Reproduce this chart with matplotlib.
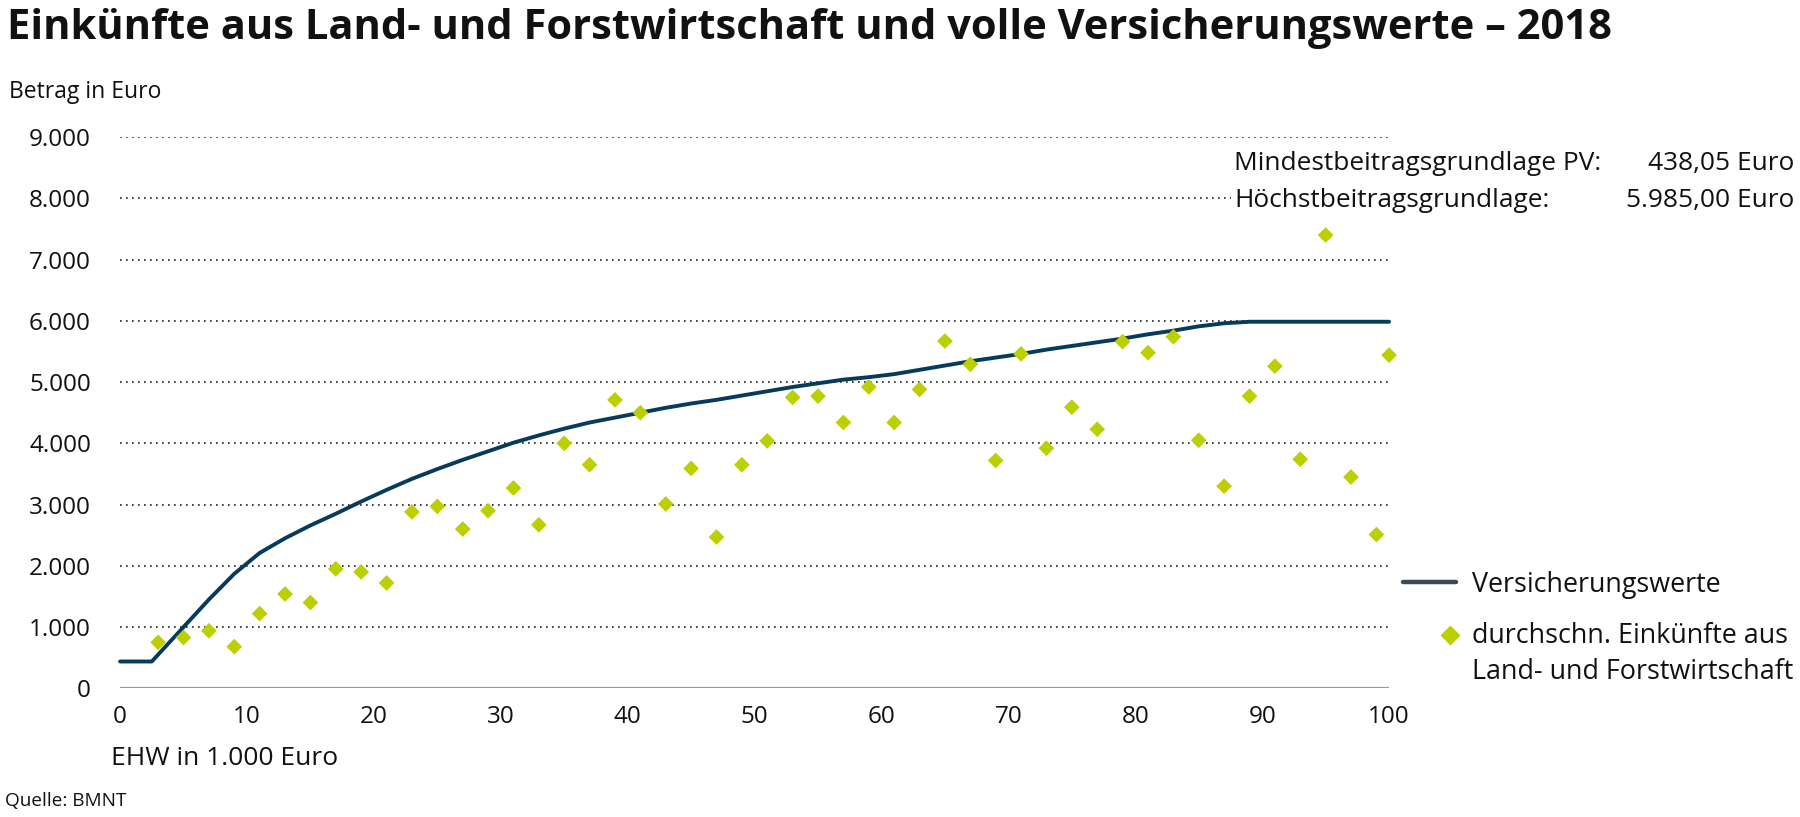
import matplotlib
matplotlib.use("Agg")
import matplotlib.pyplot as plt
from matplotlib.lines import Line2D

plt.rcParams['font.family'] = ['Open Sans', 'DejaVu Sans']

# Versicherungswerte (Linie)
ins_x = [0, 2.5, 5, 7, 9, 11, 13, 15, 17, 19, 21, 23, 25, 27, 29, 31, 33, 35, 37, 39, 41, 43,
         45, 47, 49, 51, 53, 55, 57, 59, 61, 63, 65, 67, 69, 71, 73, 75, 77, 79, 81, 83, 85,
         87, 89, 100]
ins_y = [438, 438, 1000, 1450, 1870, 2210, 2450, 2660, 2850, 3050, 3240, 3420, 3580, 3730,
         3870, 4010, 4130, 4240, 4340, 4420, 4500, 4580, 4650, 4710, 4780, 4850, 4920, 4980,
         5040, 5080, 5130, 5200, 5270, 5340, 5400, 5460, 5530, 5590, 5650, 5710, 5780, 5840,
         5910, 5960, 5985, 5985]

# durchschn. Einkuenfte (Punkte)
ehw = [3, 5, 7, 9, 11, 13, 15, 17, 19, 21, 23, 25, 27, 29, 31, 33, 35, 37, 39, 41, 43, 45,
       47, 49, 51, 53, 55, 57, 59, 61, 63, 65, 67, 69, 71, 73, 75, 77, 79, 81, 83, 85, 87,
       89, 91, 93, 95, 97, 99, 100]
income = [750, 830, 940, 680, 1220, 1540, 1400, 1950, 1900, 1720, 2880, 2970, 2600, 2900,
          3270, 2670, 4000, 3650, 4710, 4500, 3010, 3590, 2470, 3650, 4040, 4750, 4770, 4340,
          4920, 4340, 4880, 5670, 5290, 3720, 5460, 3920, 4590, 4230, 5660, 5480, 5740, 4050,
          3300, 4770, 5260, 3740, 7400, 3450, 2510, 5440]

x_ticks = [0, 10, 20, 30, 40, 50, 60, 70, 80, 90, 100]
y_ticks = [0, 1000, 2000, 3000, 4000, 5000, 6000, 7000, 8000, 9000]
y_labels = ['0', '1.000', '2.000', '3.000', '4.000', '5.000', '6.000', '7.000', '8.000', '9.000']

navy = '#073b5c'
green = '#bccf00'
ink = '#111111'

fig = plt.figure(figsize=(18, 8.17), dpi=100)
ax = fig.add_axes([0.0667, 0.1575, 0.705, 0.6747])

for y in y_ticks[1:]:
    ax.axhline(y, color='#222222', lw=1.2, linestyle=(0, (1, 2.6)), zorder=1)
ax.axhline(0, color='#9a9a9a', lw=1.6, zorder=1)

ax.plot(ins_x, ins_y, color=navy, lw=2.8, zorder=3, clip_on=False, solid_capstyle='round')
ax.scatter(ehw, income, marker='D', s=64, color=green, edgecolors='none', zorder=4, clip_on=False)

ax.set_xlim(0, 100)
ax.set_ylim(0, 9000)
ax.set_xticks(x_ticks)
ax.set_xticklabels([str(v) for v in x_ticks])
ax.set_yticks(y_ticks)
ax.set_yticklabels(y_labels)
ax.tick_params(length=0, labelsize=17.5, colors=ink)
ax.tick_params(axis='x', pad=12)
ax.tick_params(axis='y', pad=21)
for s in ax.spines.values():
    s.set_visible(False)

fig.text(0.004, 0.965, 'Einkünfte aus Land- und Forstwirtschaft und volle Versicherungswerte \u2013 2018',
         fontsize=30, fontweight='bold', va='center', ha='left', color=ink)
fig.text(0.005, 0.887, 'Betrag in Euro', fontsize=16.5, va='center', ha='left', color=ink)
fig.text(0.0617, 0.071, 'EHW in 1.000 Euro', fontsize=19, va='center', ha='left', color=ink)
fig.text(0.003, 0.019, 'Quelle: BMNT', fontsize=13.7, va='center', ha='left', color=ink)

# Beitragsgrundlagen
bb = dict(facecolor='white', edgecolor='none', pad=2)
fig.text(0.6855, 0.800, 'Mindestbeitragsgrundlage PV:', fontsize=18.9, va='center', ha='left',
         color=ink, bbox=bb)
fig.text(0.9967, 0.800, '438,05 Euro', fontsize=18.9, va='center', ha='right', color=ink)
fig.text(0.6855, 0.755, 'Höchstbeitragsgrundlage:', fontsize=18.9, va='center', ha='left',
         color=ink, bbox=bb)
fig.text(0.9967, 0.755, '5.985,00 Euro', fontsize=18.9, va='center', ha='right', color=ink)

# Legende
fig.add_artist(Line2D([0.7795, 0.8089], [0.2876, 0.2876], transform=fig.transFigure,
                      color='#3a4a55', lw=3.2, solid_capstyle='round'))
fig.text(0.8178, 0.2835, 'Versicherungswerte', fontsize=19.4, va='center', ha='left', color=ink)
fig.add_artist(Line2D([0.8055], [0.2228], transform=fig.transFigure, marker='D',
                      markersize=10, color=green, markeredgecolor='none', linestyle='none'))
fig.text(0.8178, 0.2215, 'durchschn. Einkünfte aus', fontsize=19.4, va='center', ha='left', color=ink)
fig.text(0.8178, 0.177, 'Land- und Forstwirtschaft', fontsize=19.4, va='center', ha='left', color=ink)

fig.savefig('out.png', dpi=100)
